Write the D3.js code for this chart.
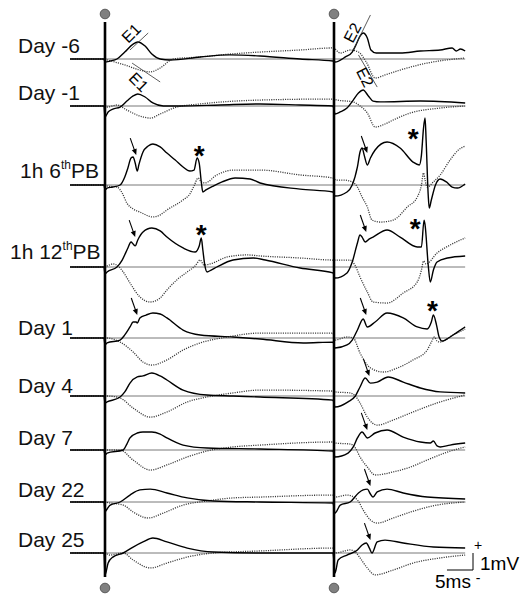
<!DOCTYPE html>
<html>
<head>
<meta charset="utf-8">
<script src="https://cdn.jsdelivr.net/npm/d3@7"></script>
<style>
  body { margin: 0; background: #fff; }
  svg { display: block; font-family: "Liberation Sans", Arial, sans-serif; }
</style>
</head>
<body>
<svg id="chart" width="522" height="594"></svg>
<script>
// row labels: [text, superscript, text after]
var rowLabels = [["Day -6"], ["Day -1"], ["1h 6", "th", "PB"], ["1h 12", "th", "PB"],
  ["Day 1"], ["Day 4"], ["Day 7"], ["Day 22"], ["Day 25"]];

// stimulus times (ms)
var stimTimes = [0, 44];

// traces as [ms, mV]; one continuous sweep per row, both stimuli
var solidTraces = [
  [[-6.7,0],[-0.2,0],[0,-0.18],[1.0,-0.12],[2.3,0],[3.8,0.41],[5.4,0.88],[6.3,1.0],[7.7,0.76],[9.0,0.29],[10.6,0],[12.5,-0.06],[18.3,0.12],[24.0,0.24],[29.8,0.18],[37.5,0],[43.8,-0.12],[44.2,-0.18],[46.2,0.12],[47.5,0.41],[48.3,0.88],[49.0,1.35],[49.6,1.53],[50.4,1.24],[51.1,0.53],[52.1,0.35],[56.7,0.35],[60.6,0.47],[64.4,0.53],[66.7,0.65],[67.5,0.47],[68.3,0.59],[69.2,0.47]],
  [[-6.7,0],[-0.2,0],[0,-0.65],[0.6,-0.35],[1.5,-0.18],[2.9,-0.06],[4.2,0.29],[5.4,0.59],[6.3,0.71],[7.7,0.53],[9.2,0.18],[11.2,0],[14.4,0],[22.1,0.06],[29.8,0.12],[37.5,0.06],[43.8,0],[44.2,-0.47],[45.2,-0.35],[46.5,-0.12],[47.7,0.35],[48.7,0.76],[49.6,0.94],[50.6,0.59],[51.5,0.29],[52.9,0.24],[60.6,0.29],[69.2,0.18]],
  [[-6.7,0],[-0.2,0],[0,-0.29],[0.4,-0.18],[1.5,-0.12],[2.9,0],[3.8,0.47],[4.4,1.0],[5.0,1.59],[5.4,1.65],[5.8,1.29],[6.2,0.82],[6.5,1.18],[7.3,1.94],[8.3,2.29],[9.2,2.41],[10.6,2.24],[11.9,1.88],[13.5,1.47],[15.0,1.06],[16.3,0.82],[17.1,0.88],[17.7,1.59],[18.1,1.29],[18.5,0.18],[18.8,-0.41],[19.4,-0.29],[20.8,-0.06],[22.5,0.18],[25.0,0.41],[27.9,0.35],[29.8,0.12],[37.5,-0.24],[43.8,-0.41],[44.2,-0.65],[46.5,-0.41],[47.5,0],[48.5,1.06],[49.0,1.94],[49.4,2.18],[49.8,1.76],[50.4,1.18],[51.0,1.59],[51.9,2.06],[54.2,2.53],[56.7,2.18],[59.2,1.35],[60.4,1.18],[60.8,1.76],[61.2,3.35],[61.5,3.94],[61.7,2.65],[62.1,-0.59],[62.3,-1.35],[62.7,-0.88],[63.5,0],[64.4,0.35],[65.6,0.18],[66.7,-0.12],[67.7,-0.18],[69.2,0.06]],
  [[-6.7,0],[-0.2,0],[0,-0.41],[0.4,-0.29],[2.3,0],[3.3,0.41],[4.4,1.12],[5.0,1.47],[5.4,1.35],[5.8,1.24],[6.3,1.59],[7.3,2.06],[9.0,2.29],[10.6,2.12],[11.9,1.76],[15.0,1.12],[17.3,0.88],[18.1,1.24],[18.5,1.71],[18.8,1.0],[19.2,0.06],[19.6,-0.29],[20.4,-0.18],[21.5,0],[24.6,0.41],[28.5,0.53],[30.8,0.41],[37.5,-0.06],[43.8,-0.35],[44.2,-0.65],[46.5,-0.35],[47.5,0.29],[48.5,1.41],[49.0,1.88],[49.4,1.76],[50.0,1.47],[50.8,1.65],[51.5,1.76],[54.2,2.18],[56.7,1.76],[60.0,1.18],[60.8,1.18],[61.3,2.76],[61.5,2.47],[62.1,0.12],[62.5,-0.88],[63.1,-0.18],[63.8,0.29],[65.8,0.53],[69.2,0.65]],
  [[-6.7,0],[-0.2,0],[0,-0.41],[0.4,-0.29],[2.9,-0.12],[3.8,0.18],[4.8,0.65],[5.4,0.94],[6.0,0.94],[6.2,0.88],[6.7,1.18],[7.9,1.35],[9.2,1.47],[10.6,1.41],[11.9,1.18],[15.0,0.47],[18.3,0.18],[24.6,0.06],[29.8,-0.06],[38.1,-0.29],[43.8,-0.24],[44.2,-0.59],[46.5,-0.41],[47.5,-0.12],[48.5,0.47],[49.6,1.12],[50.4,0.65],[51.9,0.94],[54.2,1.47],[57.3,1.18],[60.0,0.65],[61.9,0.53],[62.7,0.94],[63.1,1.35],[63.7,0.76],[64.2,0.06],[64.8,-0.18],[66.0,0],[67.7,0.35],[69.2,0.65]],
  [[-6.7,0],[-0.2,0],[0,-0.41],[0.4,-0.35],[2.9,-0.06],[3.8,0.24],[4.8,0.76],[6.2,1.12],[7.3,1.18],[9.0,1.35],[10.6,1.18],[11.9,0.94],[15.0,0.35],[19.6,0.06],[24.6,0],[29.8,-0.06],[43.8,-0.24],[44.2,-0.65],[46.7,-0.35],[48.1,0],[49.0,0.53],[50.0,1.06],[51.0,0.76],[52.3,0.82],[54.4,1.12],[57.3,0.82],[60.6,0.47],[64.4,0.24],[69.2,0.18]],
  [[-6.7,0],[-0.2,0],[0,-0.29],[0.4,-0.18],[3.5,0],[4.2,0.35],[4.8,0.71],[6.2,1.0],[7.3,1.06],[9.0,1.06],[10.6,0.94],[11.9,0.71],[15.0,0.29],[19.6,0.12],[29.8,0.06],[43.8,-0.06],[44.2,-0.41],[46.7,-0.18],[47.7,0.18],[48.5,0.71],[49.4,1.06],[50.4,0.71],[51.9,1.0],[54.2,1.18],[57.3,0.76],[60.6,0.47],[62.5,0.41],[63.1,0.53],[63.8,0.24],[64.4,0.18],[66.3,0.29],[69.2,0.41]],
  [[-6.7,0],[-0.2,0],[0,-0.59],[0.4,-0.41],[1.0,-0.18],[2.9,0],[4.8,0.41],[6.7,0.71],[8.7,0.76],[11.9,0.53],[15.8,0.24],[20.8,0.06],[29.8,0],[43.8,-0.06],[44.2,-0.65],[45.2,-0.18],[47.1,0],[48.7,0.53],[49.6,0.71],[50.4,0.76],[51.0,0.47],[51.5,0.29],[52.3,0.59],[54.2,0.76],[57.3,0.53],[61.9,0.29],[69.2,0.18]],
  [[-6.7,0],[-0.2,0],[0,-1.29],[0.6,-0.59],[1.5,-0.24],[3.5,0],[5.4,0.35],[7.3,0.65],[9.2,0.88],[11.9,0.65],[15.8,0.29],[20.8,0.06],[29.8,0],[43.8,0],[44.2,-1.18],[44.8,-0.41],[46.5,-0.12],[48.5,0.18],[49.4,0.47],[50.2,0.59],[50.8,0.29],[51.3,0],[52.3,0.65],[53.8,0.76],[57.3,0.59],[63.1,0.35],[69.2,0.29]]
];

var dottedTraces = [
  [[-6.7,0],[-0.2,0],[0.4,-0.06],[1.9,-0.18],[3.8,-0.35],[6.7,-0.65],[8.7,-0.76],[10.6,-0.53],[13.1,0],[18.3,0.12],[24.0,0.29],[29.8,0.41],[37.5,0.53],[43.8,0.65],[45.2,0.35],[47.1,0.53],[48.7,0.41],[50.2,-0.18],[51.9,-1.12],[53.8,-0.94],[56.7,-0.65],[61.9,-0.24],[69.2,0.06]],
  [[-6.7,0],[-0.2,0],[0.4,-0.06],[2.3,0.06],[4.2,-0.24],[6.7,-0.59],[8.7,-0.71],[10.6,-0.47],[13.8,-0.06],[18.3,0.12],[29.8,0.35],[43.8,0.41],[44.6,0.35],[47.7,0.24],[49.0,0],[50.4,-0.41],[51.9,-1.24],[53.8,-1.06],[55.4,-0.82],[58.7,-0.41],[64.4,-0.12],[69.2,0]],
  [[-6.7,0],[-0.2,0],[0.4,-0.06],[2.3,-0.12],[3.3,-0.47],[4.2,-1.06],[5.4,-1.41],[6.7,-1.59],[9.2,-1.88],[10.6,-1.76],[11.9,-1.47],[15.0,-0.88],[16.3,-0.53],[17.1,-0.06],[17.9,0.41],[18.5,0.18],[19.2,0.12],[21.5,0.59],[24.6,0.88],[29.8,0.88],[37.5,0.59],[43.8,0.41],[44.4,0.29],[45.8,0.29],[47.5,0.18],[48.5,-0.12],[49.4,-0.71],[50.4,-1.29],[51.3,-2.06],[52.9,-2.18],[55.4,-2.06],[58.1,-1.29],[60.0,-0.71],[60.8,0],[61.2,0.71],[61.5,0.29],[61.9,-0.12],[63.1,0.18],[64.4,0.59],[66.3,1.47],[67.9,2.06],[69.2,2.29]],
  [[-6.7,0],[-0.2,0],[0.4,0.06],[1.5,0.18],[2.5,0.06],[3.5,-0.29],[4.8,-0.94],[6.7,-1.76],[8.7,-2.06],[10.6,-1.82],[11.9,-1.35],[13.8,-0.76],[15.8,-0.29],[17.3,0.06],[18.3,0.41],[19.0,0.12],[20.2,0.18],[23.5,0.59],[27.3,0.71],[29.8,0.65],[37.5,0.53],[43.8,0.41],[45.2,0.41],[47.1,0.41],[48.1,0.06],[49.0,-0.59],[50.4,-1.47],[51.5,-2.06],[54.2,-2.12],[57.3,-1.53],[60.0,-0.88],[60.8,-0.18],[61.2,0.35],[61.7,0.18],[63.8,0.82],[66.3,1.29],[69.2,1.71]],
  [[-6.7,0],[-0.2,0],[0.4,0],[2.9,-0.24],[5.4,-0.82],[7.3,-1.41],[9.0,-1.59],[11.9,-1.29],[15.0,-0.71],[18.3,-0.29],[23.5,0.06],[29.8,0.29],[43.8,0.29],[44.2,-0.12],[46.5,0.06],[47.7,0],[49.0,-0.88],[51.0,-1.76],[53.5,-2.0],[56.2,-1.76],[59.2,-1.29],[61.9,-0.71],[62.7,-0.24],[63.3,0.06],[63.8,-0.18],[64.4,-0.24],[66.9,0.18],[69.2,0.53]],
  [[-6.7,0],[-0.2,0],[0.4,0],[2.9,-0.12],[5.4,-0.71],[8.7,-1.24],[11.9,-0.94],[15.8,-0.35],[19.6,-0.06],[24.6,0.18],[29.8,0.35],[43.8,0.29],[44.2,0.24],[47.1,0.18],[48.1,0],[49.0,-0.41],[50.4,-1.24],[52.3,-1.71],[55.4,-1.41],[58.7,-1.0],[63.8,-0.41],[69.2,0.06]],
  [[-6.7,0],[-0.2,0],[2.9,0],[5.4,-0.59],[8.7,-1.18],[11.9,-0.88],[15.8,-0.41],[19.6,-0.06],[24.6,0.18],[29.8,0.29],[43.8,0.47],[44.2,0.41],[47.1,0.35],[48.1,0.12],[49.0,-0.41],[50.4,-1.0],[51.9,-1.47],[55.4,-1.29],[58.7,-1.0],[61.9,-0.59],[65.8,-0.12],[69.2,0.18]],
  [[-6.7,0],[-0.2,0],[1.0,-0.06],[3.5,-0.18],[5.4,-0.59],[8.3,-0.94],[11.2,-0.65],[15.0,-0.18],[19.6,0.06],[24.6,0.24],[29.8,0.29],[43.8,0.41],[44.2,0.29],[46.5,0.41],[48.5,0.12],[49.6,-0.47],[51.0,-1.06],[52.3,-1.24],[55.4,-0.94],[58.7,-0.59],[63.8,-0.18],[69.2,0]],
  [[-6.7,0],[-0.2,0],[1.0,-0.12],[3.5,0],[5.4,-0.41],[8.7,-0.88],[11.9,-0.59],[15.8,-0.24],[20.8,0],[29.8,0.12],[43.8,0.29],[44.2,0],[47.1,0.18],[48.1,0.06],[49.0,-0.29],[50.4,-0.88],[51.9,-1.29],[55.4,-1.0],[59.2,-0.59],[64.4,-0.29],[69.2,-0.12]]
];

// arrow tips [row, ms, mV]
var arrows = [[2,6.0,1.76],[3,5.8,1.76],[4,6.2,1.35],[2,50.4,1.88],[3,50.2,2.06],[4,50.2,1.35],
  [5,50.8,1.18],[6,50.4,1.18],[7,51.0,0.94],[8,51.0,0.76]];
// asterisks [row, ms, mV]
var asterisks = [[2,18.1,2.12],[3,18.5,2.29],[2,59.2,3.12],[3,59.6,2.65],[4,62.9,2.0]];
// E1/E2 markers on first row: [label, text ms, text mV, angle, line from ms, mV, to ms, mV]
var eMarks = [["E1",5.0,1.53,-45,4.8,0.53,8.3,1.53],["E1",6.5,-1.35,45,5.2,-0.24,10.6,-1.35],
  ["E2",47.5,1.55,-62,47.7,0.53,51.0,2.59],["E2",50.0,-1.06,63,48.7,0.24,52.3,-1.65]];
// scale bar
var scaleMs = 5, scaleMv = 1;

// ---- layout
var rowBase = [59, 106, 185, 267, 338, 396, 450, 502, 553];
var labelX = [18, 18, 20, 10, 18, 18, 18, 18, 18];
var labelDy = [-6, -6, -7, -8, -3, -3, -5, -5, -6];
var pxPerMv = 17;

var svg = d3.select("#chart");

var x = d3.scaleLinear().domain([0, 44]).range([105, 334]);
function yRow(i) {
  return d3.scaleLinear().domain([0, 1]).range([rowBase[i], rowBase[i] - pxPerMv]);
}

// thin zero lines
svg.append("g").selectAll("line")
  .data(rowBase)
  .enter().append("line")
  .attr("x1", x(-6.7)).attr("x2", x(69.2))
  .attr("y1", d => d).attr("y2", d => d)
  .attr("stroke", "#555")
  .attr("stroke-width", 0.8);

var traceG = svg.append("g");

dottedTraces.forEach(function(tr, i) {
  var y = yRow(i);
  var line = d3.line().x(d => x(d[0])).y(d => y(d[1])).curve(d3.curveMonotoneX);
  traceG.append("path")
    .attr("d", line(tr))
    .attr("fill", "none")
    .attr("stroke", "#3a3a3a")
    .attr("stroke-width", 1.3)
    .attr("stroke-dasharray", "1.1 1.2");
});

solidTraces.forEach(function(tr, i) {
  var y = yRow(i);
  var line = d3.line().x(d => x(d[0])).y(d => y(d[1])).curve(d3.curveMonotoneX);
  traceG.append("path")
    .attr("d", line(tr))
    .attr("fill", "none")
    .attr("stroke", "#000")
    .attr("stroke-width", 1.4)
    .attr("stroke-linejoin", "round");
});

// stimulus lines and dots
stimTimes.forEach(function(t) {
  svg.append("line")
    .attr("x1", x(t)).attr("x2", x(t))
    .attr("y1", 22).attr("y2", 577)
    .attr("stroke", "#000")
    .attr("stroke-width", 2.6);
  [14, 588].forEach(function(cy) {
    svg.append("circle")
      .attr("cx", x(t)).attr("cy", cy).attr("r", 4.8)
      .attr("fill", "#808080")
      .attr("stroke", "#5a5a5a")
      .attr("stroke-width", 1);
  });
});

// row labels
rowLabels.forEach(function(lab, i) {
  var t = svg.append("text")
    .attr("x", labelX[i])
    .attr("y", rowBase[i] + labelDy[i])
    .attr("font-size", 21)
    .attr("fill", "#111");
  t.append("tspan").text(lab[0]);
  if (lab.length > 1) {
    t.append("tspan").attr("font-size", 12).attr("dy", -9).text(lab[1]);
    t.append("tspan").attr("dy", 9).text(lab[2]);
  }
});

// arrows
arrows.forEach(function(a) {
  var tx = x(a[1]), ty = yRow(a[0])(a[2]);
  var sx = tx - 6, sy = ty - 17;
  var ang = Math.atan2(ty - sy, tx - sx);
  svg.append("line")
    .attr("x1", sx).attr("y1", sy)
    .attr("x2", tx - 4 * Math.cos(ang)).attr("y2", ty - 4 * Math.sin(ang))
    .attr("stroke", "#000").attr("stroke-width", 1.1);
  var hl = 6, hw = 2.6;
  var bx = tx - hl * Math.cos(ang), by = ty - hl * Math.sin(ang);
  svg.append("path")
    .attr("d", "M" + tx + "," + ty +
      "L" + (bx + hw * Math.sin(ang)) + "," + (by - hw * Math.cos(ang)) +
      "L" + (bx - hw * Math.sin(ang)) + "," + (by + hw * Math.cos(ang)) + "Z")
    .attr("fill", "#000");
});

// asterisks
svg.append("g").selectAll("text")
  .data(asterisks)
  .enter().append("text")
  .attr("x", d => x(d[1]))
  .attr("y", d => yRow(d[0])(d[2]) + 16)
  .attr("text-anchor", "middle")
  .attr("font-size", 28)
  .attr("font-weight", "bold")
  .text("*");

// E1 / E2 markers
eMarks.forEach(function(m) {
  var y = yRow(0);
  svg.append("line")
    .attr("x1", x(m[4])).attr("y1", y(m[5]))
    .attr("x2", x(m[6])).attr("y2", y(m[7]))
    .attr("stroke", "#333").attr("stroke-width", 0.8);
  svg.append("text")
    .attr("transform", "translate(" + x(m[1]) + "," + y(m[2]) + ") rotate(" + m[3] + ")")
    .attr("text-anchor", "middle")
    .attr("dy", "0.36em")
    .attr("font-size", 16)
    .text(m[0]);
});

// scale bar
var sbX = 473, sbY = 570;
var sbW = x(scaleMs) - x(0), sbH = pxPerMv * scaleMv;
svg.append("path")
  .attr("d", "M" + (sbX - sbW) + "," + sbY + "H" + sbX + "V" + (sbY - sbH))
  .attr("fill", "none").attr("stroke", "#000").attr("stroke-width", 1);
svg.append("text").attr("x", 478).attr("y", 550).attr("text-anchor", "middle")
  .attr("font-size", 14).text("+");
svg.append("text").attr("x", 480).attr("y", 570).attr("font-size", 19).text("1mV");
svg.append("text").attr("x", 435).attr("y", 588).attr("font-size", 19).text("5ms");
svg.append("text").attr("x", 478).attr("y", 583).attr("text-anchor", "middle")
  .attr("font-size", 14).text("-");
</script>
</body>
</html>
